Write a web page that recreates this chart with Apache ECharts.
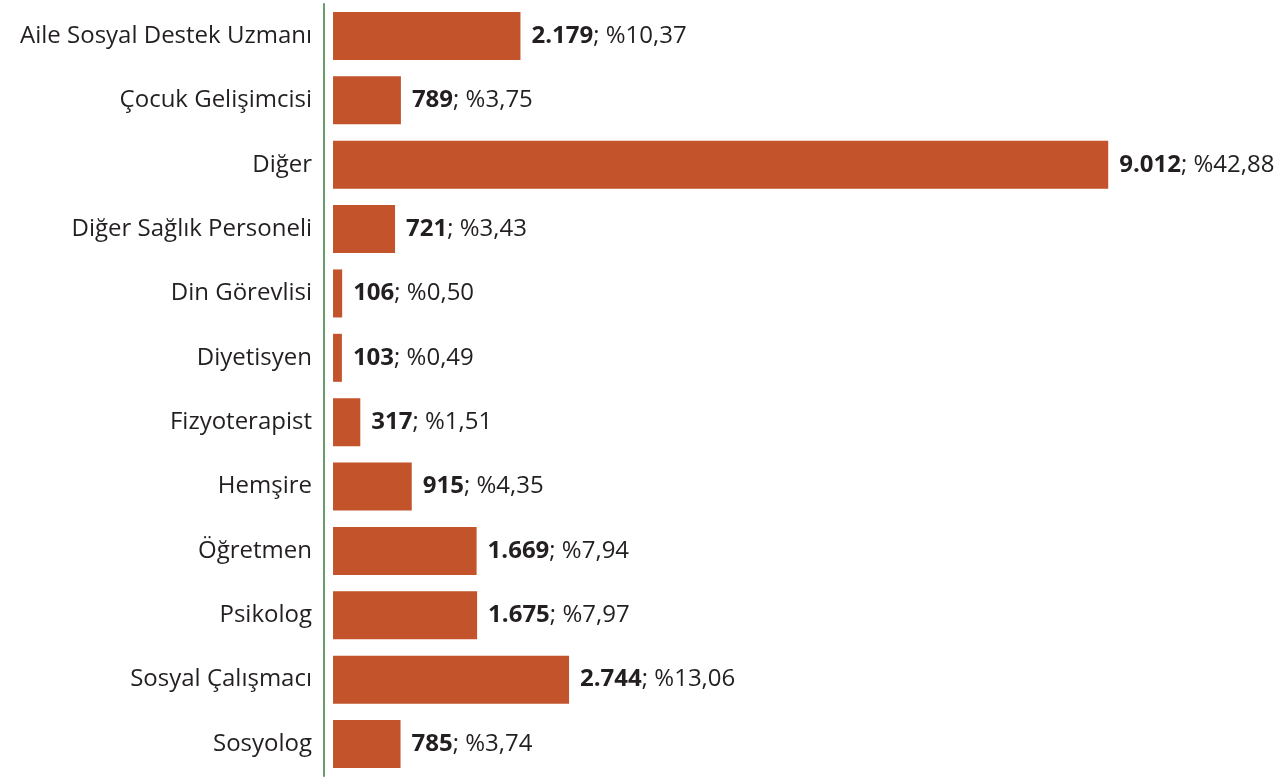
<!DOCTYPE html>
<html>
<head>
<meta charset="utf-8">
<script src="https://cdn.jsdelivr.net/npm/echarts@6/dist/echarts.min.js"></script>
<style>html,body{margin:0;padding:0;background:#fff}#c{width:1284px;height:780px}</style>
</head>
<body>
<div id="c"></div>
<script>
const categories = ["Aile Sosyal Destek Uzmanı","Çocuk Gelişimcisi","Diğer","Diğer Sağlık Personeli","Din Görevlisi","Diyetisyen","Fizyoterapist","Hemşire","Öğretmen","Psikolog","Sosyal Çalışmacı","Sosyolog"];
const values = [2179, 789, 9012, 721, 106, 103, 317, 915, 1669, 1675, 2744, 785];
const percents = ["10,37","3,75","42,88","3,43","0,50","0,49","1,51","4,35","7,94","7,97","13,06","3,74"];

function fmt(v){ return String(v).replace(/\B(?=(\d{3})+(?!\d))/g, '.'); }

const chart = echarts.init(document.getElementById('c'));
chart.setOption({
  animation: false,
  grid: { left: 324, right: 22, top: 3.8, bottom: 3.8, containLabel: false },
  xAxis: {
    type: 'value', min: -105, max: 10800,
    show: false, splitLine: { show: false }
  },
  yAxis: {
    type: 'category', data: categories, inverse: true,
    axisLine: { show: true, onZero: false, lineStyle: { color: '#3a7d3a', width: 1.5 } },
    axisTick: { show: false },
    axisLabel: { margin: 12, fontFamily: 'Open Sans', fontSize: 24, color: '#231f20' }
  },
  series: [{
    type: 'bar',
    data: values,
    barCategoryGap: '25.4%',
    itemStyle: { color: '#c2532a' },
    label: {
      show: true, position: 'right', distance: 11,
      formatter: p => '{b|' + fmt(p.value) + '}{n|; %' + percents[p.dataIndex] + '}',
      rich: {
        b: { fontFamily: 'Open Sans', fontWeight: 'bold', fontSize: 24, color: '#231f20' },
        n: { fontFamily: 'Open Sans', fontSize: 24, color: '#231f20' }
      }
    }
  }]
});
</script>
</body>
</html>
